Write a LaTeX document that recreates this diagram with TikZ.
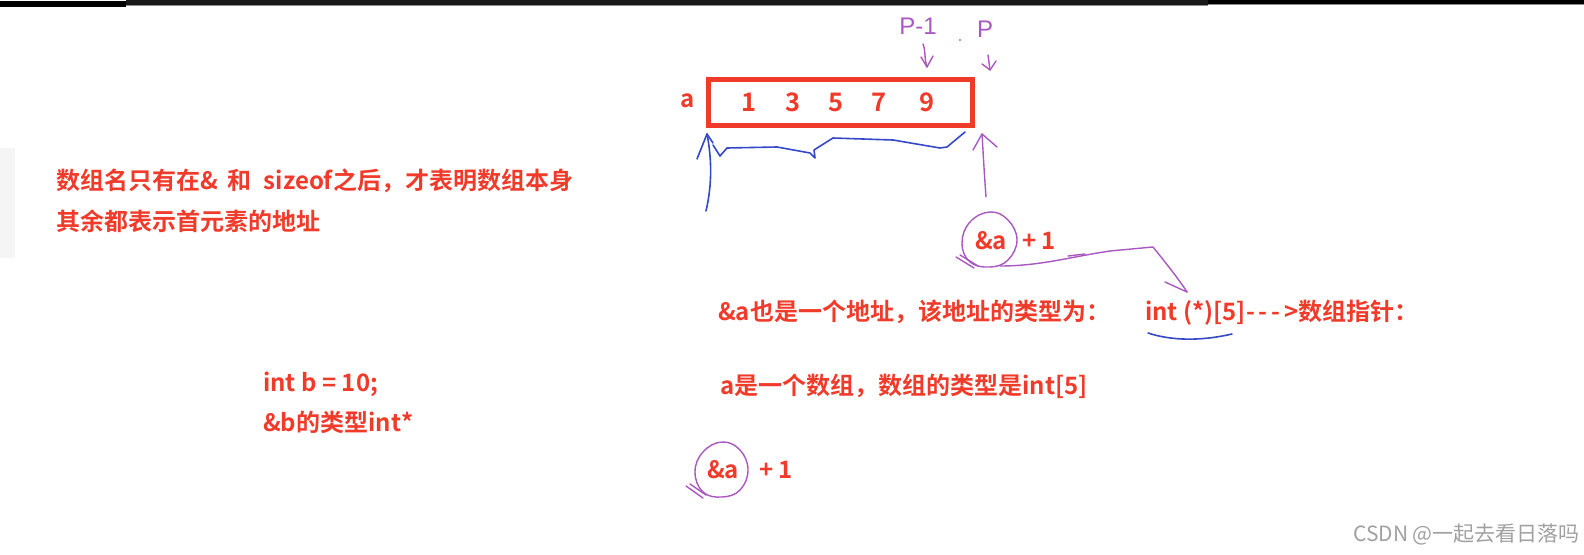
\documentclass[tikz,border=0pt]{standalone}
\usepackage{fontspec}
\setmainfont{Noto Sans CJK SC}
\newfontfamily\cjkb{Noto Sans CJK SC Bold}
\newfontfamily\cjkr{Noto Sans CJK SC}
\newfontfamily\hand{Liberation Sans}
\definecolor{cred}{RGB}{240,58,42}
\definecolor{cpurple}{RGB}{168,88,190}
\definecolor{cblue}{RGB}{52,72,200}
\definecolor{cgray}{RGB}{160,160,160}
\tikzset{
  txt/.style={text=cred, font=\cjkb\fontsize{24}{28}\selectfont, inner sep=0pt, anchor=west},
  digit/.style={text=cred, font=\cjkb\fontsize{25.5}{28}\selectfont, inner sep=0pt},
  arrbox/.style={draw=cred, line width=5pt, minimum width=264pt, minimum height=46pt, inner sep=0pt},
  pstroke/.style={draw=cpurple, line width=1.4pt, line cap=round, line join=round},
  bstroke/.style={draw=cblue, line width=1.6pt, line cap=round, line join=round},
  handtxt/.style={text=cpurple, font=\hand\fontsize{24}{26}\selectfont, inner sep=0pt},
}
\begin{document}
\begin{tikzpicture}[x=1pt,y=-1pt]
\useasboundingbox (0,0) rectangle (1584,554);
% top window bar
\fill[black] (0,1) rectangle (126,6.7);
\fill[black!90] (126,0) rectangle (1208,5);
\fill[black!45] (126,5) rectangle (1208,6);
\fill[black] (1208,0) rectangle (1584,4);
\fill[black!45] (1208,4) rectangle (1584,5);
% faint left panel
\fill[black!4] (0,148) rectangle (15,258);

% left texts
\node[txt] (rule1) at (56,181) {数组名只有在\&\hspace{10pt}和\hspace{12pt}sizeof\hspace{1pt}之后，才表明数组本身};
\node[txt] (rule2) at (56,221) {其余都表示首元素的地址};
\node[txt] (intb) at (263,384) {int b = 10;};
\node[txt] (btype) at (263,422) {\&b的类型int*};

% array
\node[text=cred, font=\cjkb\fontsize{24}{28}\selectfont, inner sep=0pt] (alabel) at (688,101) {a};
\node[arrbox] (arr) at (840.5,102.5) {};
\node[digit] (n1) at (749,102) {1};
\node[digit] (n2) at (793,102) {3};
\node[digit] (n3) at (836,102) {5};
\node[digit] (n4) at (879,102) {7};
\node[digit] (n5) at (927,102) {9};

% handwritten p-1, p
\node[handtxt] (pm1) at (918,26) {P-1};
\node[handtxt] (pp) at (985,29) {P};
\fill[cpurple] (960,40) circle (1.1pt);
\coordinate (pm1a) at (923,44);
\coordinate (pm1b) at (927,67);
\draw[pstroke] (pm1a) .. controls (926,52) and (924,58) .. (pm1b);
\draw[pstroke] (921,57) -- (pm1b) -- (933,56);
\coordinate (ppa) at (988,55);
\coordinate (ppb) at (990,70);
\draw[pstroke] (ppa) -- (ppb);
\draw[pstroke] (982,64) -- (ppb) -- (996,61);

% blue brace under the array with up arrow at left
\coordinate (btip) at (707,134);
\draw[bstroke] (706,211) .. controls (712,185) and (712,160) .. (btip);
\draw[bstroke] (697,159) -- (btip) -- (713,143);
\draw[bstroke] (713,145) -- (720,156) -- (727,148) -- (777,147) -- (810,153) -- (815,158) -- (814,150) -- (833,138) -- (893,140) -- (940,148) -- (947,147) -- (965,132);

% purple up arrow from &a
\coordinate (ptip) at (982,134);
\draw[pstroke] (986,197) .. controls (984,170) and (983,150) .. (ptip);
\draw[pstroke] (973,150) -- (ptip) -- (997,147);

% &a + 1 (upper)
\node[txt] (ap1) at (975,241) {\&a};
\node[txt] (ap1b) at (1022,241) {+ 1};
\draw[pstroke] plot[smooth cycle, tension=0.7] coordinates {(990,212) (1008,220) (1017,240) (1008,260) (990,267) (970,262) (962,243) (970,222)};
\draw[pstroke] (956,257) -- (974,268);
\draw[pstroke] (960,255) -- (978,266);

% connector to int (*)[5]
\node[txt] (ptrtype) at (1145,313) {int (*)[5]-\,-\,-\,>数组指针：};
\coordinate (ctip) at (1187,292);
\draw[pstroke] (1000,266) .. controls (1040,266) and (1070,257) .. (1110,251) -- (1153,247) .. controls (1165,262) and (1178,278) .. (ctip);
\draw[pstroke] (1068,256) -- (1085,254);
\draw[pstroke] (1165,282) -- (ctip);
\draw[bstroke] (1148,333) .. controls (1172,341) and (1202,341) .. (1232,334);

% middle texts
\node[txt] (atype) at (718,312) {\&a也是一个地址，该地址的类型为：};
\node[txt] (arrtype) at (720,386) {a是一个数组，数组的类型是int[5]};

% &a + 1 (lower)
\node[txt] (ap2) at (707,470) {\&a};
\node[txt] (ap2b) at (759,470) {+ 1};
\draw[pstroke] plot[smooth cycle, tension=0.7] coordinates {(722,442) (740,450) (748,470) (740,490) (722,497) (703,492) (695,472) (703,452)};
\draw[pstroke] (686,486) -- (703,498);
\draw[pstroke] (690,484) -- (706,495);

% watermark
\node[text=cgray, font=\cjkr\fontsize{21}{24}\selectfont, inner sep=0pt, anchor=east] (wm) at (1580,534) {CSDN @一起去看日落吗};
\end{tikzpicture}
\end{document}
